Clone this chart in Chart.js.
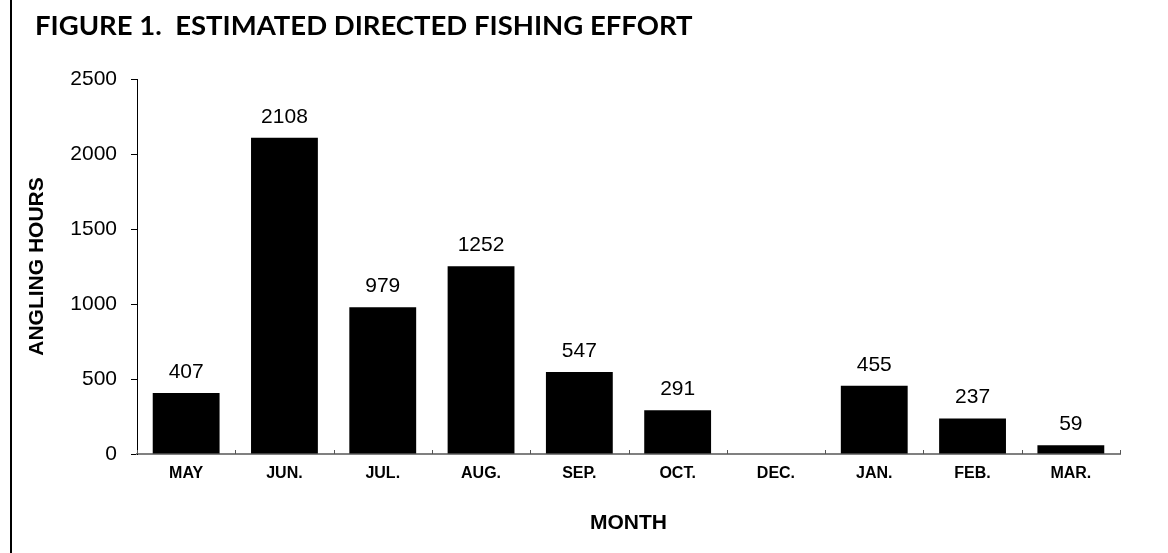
<!DOCTYPE html>
<html>
<head>
<meta charset="utf-8">
<script src="https://cdn.jsdelivr.net/npm/chart.js@4"></script>
<style>
  body { margin: 0; background: #fff; }
  #wrap { position: relative; width: 1168px; height: 553px; }
  #frame { position: absolute; left: 10px; top: 0; width: 2px; height: 553px; background: #000; }
  #myChart { position: absolute; left: 0; top: 0; }
</style>
</head>
<body>
<div id="wrap">
  <canvas id="myChart" width="1168" height="553"></canvas>
  <div id="frame"></div>
</div>
<script>
var months = ['MAY', 'JUN.', 'JUL.', 'AUG.', 'SEP.', 'OCT.', 'DEC.', 'JAN.', 'FEB.', 'MAR.'];
var anglingHours = [407, 2108, 979, 1252, 547, 291, null, 455, 237, 59];
var yTicks = [0, 500, 1000, 1500, 2000, 2500];
var figTitle = 'FIGURE 1.  ESTIMATED DIRECTED FISHING EFFORT';

// title drawn top-left, like the original figure caption
var titlePlugin = {
    id: 'figTitle',
    afterDraw: function(chart) {
        var c = chart.ctx;
        c.save();
        c.fillStyle = '#000';
        c.font = 'bold 27.5px Lato';
        c.textBaseline = 'alphabetic';
        c.textAlign = 'left';
        c.fillText(figTitle, 35, 35);
        c.restore();
    }
};

// value labels above the bars + small inward ticks on the x axis
var barLabels = {
    id: 'barLabels',
    afterDatasetsDraw: function(chart) {
        var c = chart.ctx;
        var meta = chart.getDatasetMeta(0);
        var x = chart.scales.x;
        c.save();
        c.strokeStyle = '#555';
        c.lineWidth = 1;
        for (var i = 0; i <= months.length; i++) {
            var px = Math.round(x.getPixelForValue(i - 0.5)) + 0.5;
            c.beginPath();
            c.moveTo(px, x.top);
            c.lineTo(px, x.top - 4);
            c.stroke();
        }
        c.fillStyle = '#000';
        c.font = '21px "Liberation Sans", Arial';
        c.textAlign = 'center';
        c.textBaseline = 'alphabetic';
        meta.data.forEach(function(bar, i) {
            if (anglingHours[i] == null) return;
            c.fillText(String(anglingHours[i]), bar.x, bar.y - 15);
        });
        c.restore();
    }
};

var ctx = document.getElementById('myChart');
var myChart = new Chart(ctx, {
    type: 'bar',
    data: {
        labels: months,
        datasets: [{
            label: 'Angling hours',
            data: anglingHours,
            backgroundColor: '#000',
            borderWidth: 0,
            barPercentage: 0.68,
            categoryPercentage: 1
        }]
    },
    options: {
        responsive: false,
        animation: false,
        devicePixelRatio: 1,
        layout: {
            padding: { left: 20, right: 48, top: 79, bottom: 0 }
        },
        plugins: {
            legend: { display: false },
            tooltip: { enabled: false }
        },
        scales: {
            x: {
                grid: { display: true, drawOnChartArea: false, drawTicks: false },
                border: { display: true, color: '#808080', width: 2 },
                ticks: {
                    color: '#000',
                    padding: 10,
                    font: { family: '"Liberation Sans", Arial', size: 16, weight: 'bold' }
                },
                title: {
                    display: true,
                    text: 'MONTH',
                    color: '#000',
                    font: { family: '"Liberation Sans", Arial', size: 21, weight: 'bold' },
                    padding: { top: 0, bottom: 17 }
                },
                afterFit: function(scale) { scale.height = 99; }
            },
            y: {
                min: 0,
                max: 2500,
                afterBuildTicks: function(scale) {
                    scale.ticks = yTicks.map(function(v) { return { value: v }; });
                },
                grid: { drawOnChartArea: false, drawTicks: true, tickLength: 6, color: '#000' },
                border: { display: true, color: '#000', width: 1 },
                ticks: {
                    color: '#000',
                    padding: 14,
                    font: { family: '"Liberation Sans", Arial', size: 21 },
                    callback: function(value) { return String(value); }
                },
                title: {
                    display: true,
                    text: 'ANGLING HOURS',
                    color: '#000',
                    font: { family: '"Liberation Sans", Arial', size: 21, weight: 'bold' },
                    padding: { top: 5, bottom: 0 }
                },
                afterFit: function(scale) { scale.width = 117; }
            }
        }
    },
    plugins: [titlePlugin, barLabels]
});
</script>
</body>
</html>
